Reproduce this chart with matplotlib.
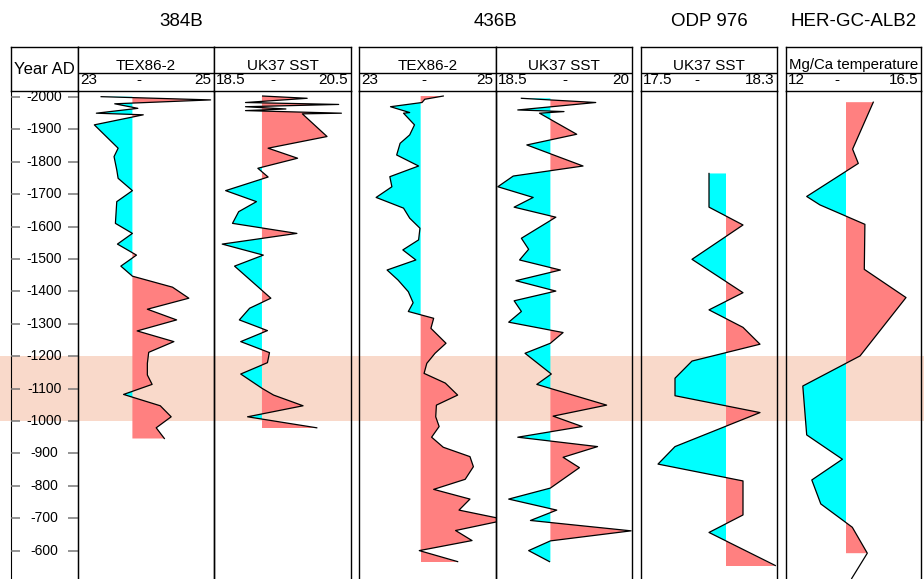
import matplotlib.pyplot as plt

plt.rcParams['font.family'] = ['Liberation Sans', 'DejaVu Sans']

# ---- values ----
year_ticks = [-2000, -1900, -1800, -1700, -1600, -1500, -1400, -1300,
              -1200, -1100, -1000, -900, -800, -700, -600]
band_years = [-1200, -1000]

# 384B TEX86-2
tex384_year = [-2001, -1991, -1979, -1965, -1950, -1945, -1914, -1842, -1816,
               -1775, -1749, -1711, -1677, -1610, -1579, -1546, -1512, -1478,
               -1447, -1413, -1379, -1345, -1312, -1278, -1245, -1212, -1178,
               -1142, -1113, -1082, -1047, -1013, -979, -946]
tex384_val = [23.34, 24.95, 23.54, 23.88, 23.27, 23.96, 23.24, 23.59, 23.53,
              23.57, 23.59, 23.80, 23.57, 23.55, 23.80, 23.58, 23.86, 23.63,
              23.80, 24.39, 24.63, 24.02, 24.45, 23.87, 24.41, 24.04, 24.02,
              24.02, 24.09, 23.67, 24.21, 24.37, 24.15, 24.27]

# 384B UK37 SST
uk384_year = [-2003, -1996, -1983, -1977, -1970, -1963, -1958, -1950, -1948,
              -1878, -1842, -1811, -1780, -1753, -1711, -1677, -1646, -1610,
              -1579, -1546, -1512, -1478, -1379, -1348, -1312, -1279, -1245,
              -1211, -1180, -1145, -1101, -1080, -1047, -1013, -979]
uk384_val = [19.21, 19.86, 18.96, 20.32, 18.96, 19.55, 18.96, 20.36, 19.79,
             20.15, 19.29, 19.72, 19.14, 19.29, 18.67, 19.12, 18.86, 18.77,
             19.71, 18.62, 19.22, 18.80, 19.33, 19.02, 18.87, 19.28, 18.89,
             19.31, 19.28, 18.89, 19.20, 19.37, 19.80, 18.99, 20.00]

# 436B TEX86-2
tex436_year = [-2003, -1993, -1983, -1970, -1952, -1950, -1914, -1883, -1857,
               -1821, -1787, -1754, -1723, -1690, -1657, -1626, -1595, -1559,
               -1528, -1497, -1466, -1435, -1399, -1365, -1338, -1317, -1286,
               -1240, -1209, -1178, -1147, -1117, -1080, -1049, -1013, -983,
               -950, -919, -890, -859, -820, -789, -759, -725, -695, -662,
               -631, -600, -566]
tex436_val = [24.23, 23.96, 23.92, 23.46, 23.74, 23.65, 23.81, 23.74, 23.60,
              23.55, 23.87, 23.45, 23.48, 23.25, 23.65, 23.74, 23.89, 23.87,
              23.64, 23.83, 23.41, 23.57, 23.72, 23.79, 23.72, 24.09, 24.05,
              24.27, 24.11, 23.99, 23.95, 24.26, 24.44, 24.13, 24.12, 24.17,
              24.06, 24.23, 24.62, 24.67, 24.55, 24.09, 24.62, 24.46, 25.15,
              24.41, 24.65, 23.88, 24.44]

# 436B UK37 SST
uk436_year = [-1996, -1983, -1960, -1955, -1950, -1885, -1852, -1787, -1756,
              -1723, -1690, -1660, -1629, -1564, -1530, -1497, -1466, -1433,
              -1401, -1371, -1338, -1305, -1273, -1240, -1209, -1145, -1113,
              -1049, -1015, -983, -950, -921, -888, -856, -793, -759, -725,
              -693, -661, -630, -600, -566]
uk436_val = [18.78, 19.60, 18.74, 19.25, 18.98, 19.39, 18.84, 19.46, 18.69,
             18.52, 18.91, 18.70, 19.16, 18.78, 18.86, 18.76, 19.21, 18.72,
             19.16, 18.70, 18.78, 18.64, 19.24, 19.10, 18.82, 19.11, 18.95,
             19.72, 19.13, 19.45, 18.74, 19.62, 19.24, 19.42, 19.10, 18.64,
             19.17, 18.88, 19.99, 19.10, 18.86, 19.09]

# ODP 976 UK37 SST
odp_year = [-1764, -1660, -1605, -1499, -1396, -1343, -1289, -1237, -1185,
            -1132, -1078, -1026, -921, -867, -815, -710, -656, -554]
odp_val = [17.90, 17.90, 18.10, 17.80, 18.10, 17.90, 18.10, 18.20, 17.80,
           17.70, 17.70, 18.20, 17.70, 17.60, 18.10, 18.10, 17.90, 18.29]

# HER-GC-ALB2 Mg/Ca temperature
her_year = [-1984, -1839, -1795, -1693, -1667, -1607, -1468, -1381, -1201,
            -1108, -957, -882, -818, -744, -672, -592, -514]
her_val = [14.91, 14.22, 14.41, 12.69, 13.13, 14.63, 14.61, 16.00, 14.47,
           12.56, 12.69, 13.88, 12.86, 13.16, 14.21, 14.71, 14.19]

# ---- layout (pixels of a 924 x 579 canvas) ----
W, H = 924, 579
TOP, MID, HEAD, BOT = 47, 73, 91, 582
Y_HEAD, Y_BOT = -2018.5, -503.1        # years at the HEAD and BOT rows

POS = '#ff8080'
NEG = '#00ffff'
BAND = '#f9d9ca'


def rect(x0, y0, x1, y1):
    return [x0 / W, 1 - y1 / H, (x1 - x0) / W, (y1 - y0) / H]


def px(y):
    return 1 - y / H


fig = plt.figure(figsize=(9.24, 5.79), dpi=100)

# shaded band across the full width
bg = fig.add_axes(rect(0, HEAD, W, BOT))
bg.set_ylim(Y_BOT, Y_HEAD)
bg.axhspan(band_years[0], band_years[1], color=BAND, lw=0)
bg.axis('off')

# year column
yh = fig.add_axes(rect(11, TOP, 78, HEAD))
yh.set_xticks([]); yh.set_yticks([])
yh.text(0.5, 0.5, 'Year AD', fontsize=12, ha='center', va='center',
        transform=yh.transAxes)
for s in yh.spines.values():
    s.set_linewidth(1.0)

ya = fig.add_axes(rect(11, HEAD, 78, BOT))
ya.set_facecolor('none')
ya.set_ylim(Y_BOT, Y_HEAD)
ya.set_xlim(0, 67)                      # pixel units across the column
ya.set_xticks([]); ya.set_yticks([])
ya.spines['top'].set_visible(False)
ya.spines['bottom'].set_visible(False)
# tick marks on both sides of the year column
ya.hlines(year_ticks, 0, 9, color='#777777', lw=1.1, zorder=3)
ya.hlines(year_ticks, 57, 67, color='#777777', lw=1.1, zorder=3)
for t in year_ticks:
    ya.text(33.5, t, str(t), fontsize=10, ha='center', va='center')

panels = [
    (78, 214, 'TEX86-2', 23, 25, 23.8, '23', '25', 0.45,
     tex384_year, tex384_val, len(tex384_year)),
    (214, 351, 'UK37 SST', 18.5, 20.5, 19.2, '18.5', '20.5', 0.43,
     uk384_year, uk384_val, len(uk384_year)),
    (359, 496, 'TEX86-2', 23, 25, 23.9, '23', '25', 0.47,
     tex436_year, tex436_val, len(tex436_year)),
    (496, 632, 'UK37 SST', 18.5, 20, 19.1, '18.5', '20', 0.51,
     uk436_year, uk436_val, len(uk436_year)),
    (641, 777, 'UK37 SST', 17.5, 18.3, 18.0, '17.5', '18.3', 0.41,
     odp_year, odp_val, len(odp_year)),
    (786, 921, 'Mg/Ca temperature', 12, 16.5, 14.0, '12', '16.5', 0.38,
     her_year, her_val, len(her_year) - 1),
]

for (x0, x1, title, lo, hi, base, lab_lo, lab_hi, dash,
     yrs, vals, nfill) in panels:
    hd = fig.add_axes(rect(x0, TOP, x1, HEAD))
    hd.set_xlim(0, 1); hd.set_ylim(0, 1)
    hd.set_xticks([]); hd.set_yticks([])
    for s in hd.spines.values():
        s.set_linewidth(1.0)
    mid = (HEAD - MID) / (HEAD - TOP)
    hd.axhline(mid, color='black', lw=1.0)
    hd.text(0.5, (HEAD - 69.5) / (HEAD - TOP), title,
            fontsize=11 if len(title) < 12 else 10.8,
            ha='center', va='baseline')
    wpx = x1 - x0
    hd.text(2 / wpx, (HEAD - 84) / (HEAD - TOP), lab_lo, fontsize=11,
            ha='left', va='baseline')
    hd.text(1 - 3 / wpx, (HEAD - 84) / (HEAD - TOP), lab_hi, fontsize=11,
            ha='right', va='baseline')
    hd.text(dash, (HEAD - 84) / (HEAD - TOP), '-', fontsize=11,
            ha='center', va='baseline')

    ax = fig.add_axes(rect(x0, HEAD, x1, BOT))
    ax.set_facecolor('none')
    ax.set_xlim(lo, hi)
    ax.set_ylim(Y_BOT, Y_HEAD)
    ax.set_xticks([]); ax.set_yticks([])
    ax.spines['top'].set_visible(False)
    ax.spines['bottom'].set_visible(False)
    for s in ('left', 'right'):
        ax.spines[s].set_linewidth(1.0)
    fy = yrs[:nfill]
    fv = vals[:nfill]
    ax.fill_betweenx(fy, base, fv, where=[v >= base for v in fv],
                     interpolate=True, color=POS, lw=0)
    ax.fill_betweenx(fy, base, fv, where=[v <= base for v in fv],
                     interpolate=True, color=NEG, lw=0)
    ax.plot(vals, yrs, color='black', lw=0.9)

groups = [('384B', 11, 351), ('436B', 359, 632),
          ('ODP 976', 641, 777), ('HER-GC-ALB2', 786, 921)]
for name, g0, g1 in groups:
    fig.text((g0 + g1) / 2 / W, px(22), name, fontsize=13.5,
             ha='center', va='center')

fig.savefig('out.png', dpi=100)
